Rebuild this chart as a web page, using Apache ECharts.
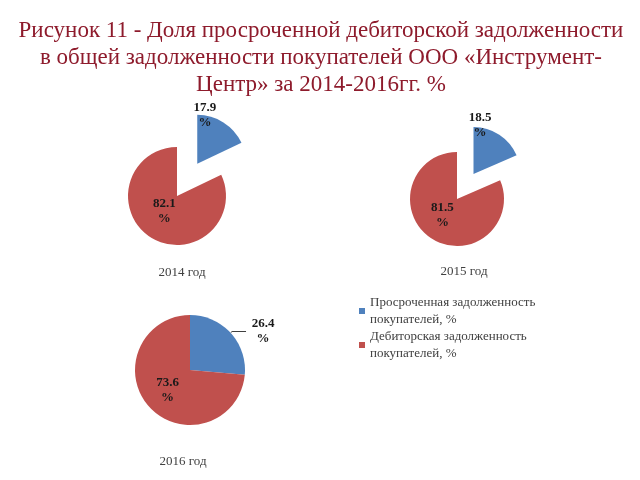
<!DOCTYPE html>
<html><head><meta charset="utf-8">
<script src="https://cdn.jsdelivr.net/npm/echarts@6/dist/echarts.min.js"></script>
<style>html,body{margin:0;padding:0;background:#fff}#c{width:640px;height:480px}</style>
</head><body><div id="c"></div>
<script>
const seriesNames = ['Просроченная задолженность\nпокупателей, %', 'Дебиторская задолженность\nпокупателей, %'];
const years = ['2014 год', '2015 год', '2016 год'];
const overdue = [17.9, 18.5, 26.4];
const receivable = [82.1, 81.5, 73.6];
const colors = ['#4F81BD', '#C0504D'];
const titleText = 'Рисунок 11 - Доля просроченной дебиторской задолженности\nв общей задолженности покупателей ООО «Инструмент-\nЦентр» за 2014-2016гг. %';

const serif = "'Liberation Serif','Times New Roman',serif";
const chart = echarts.init(document.getElementById('c'));

// layout per pie: center, radius, explode offset, label shifts
const layouts = [
  {center: [177, 196], radius: 49, offset: 38, explode: true, shift: [[-7, -25], [2, -8]]},
  {center: [457, 199], radius: 47, offset: 30, explode: true, shift: [[-8, -27], [0, -6]]},
  {center: [190, 370], radius: 55, offset: 0, explode: false, shift: [[12, 0], [0, 0]]}
];
const yearPos = [[177, 261], [459, 260], [178, 450]];

const labelStyle = {
  fontFamily: serif, fontSize: 13, fontWeight: 'bold', color: '#1a1a1a', lineHeight: 15,
  formatter: p => p.value.toFixed(1) + '\n%'
};

const series = layouts.map((L, i) => ({
  type: 'pie',
  center: L.center,
  radius: L.radius,
  startAngle: 90,
  clockwise: true,
  selectedMode: L.explode ? 'multiple' : false,
  selectedOffset: L.offset,
  avoidLabelOverlap: false,
  animation: false,
  emphasis: {disabled: true},
  itemStyle: {borderWidth: 0},
  label: Object.assign({position: 'inside'}, labelStyle),
  labelLine: {show: false},
  labelLayout: p => {
    const s = L.shift[p.dataIndex];
    return {dx: s[0], dy: s[1], align: 'center'};
  },
  data: [
    {name: seriesNames[0], value: overdue[i], selected: L.explode,
      itemStyle: {color: colors[0]},
      label: i === 2 ? {position: 'outside'} : undefined,
      labelLine: i === 2 ? {show: true, length: 2, length2: 14, lineStyle: {color: '#404040', width: 1}} : undefined},
    {name: seriesNames[1], value: receivable[i], itemStyle: {color: colors[1]}}
  ]
}));

const titles = [{
  text: titleText, top: 12, textAlign: 'center',
  left: 316,
  textStyle: {fontFamily: serif, fontSize: 23, fontWeight: 'normal', color: '#8E1B2C', lineHeight: 27}
}].concat(years.map((y, i) => ({
  text: y, left: yearPos[i][0], top: yearPos[i][1], textAlign: 'center',
  textStyle: {fontFamily: serif, fontSize: 13, fontWeight: 'normal', color: '#404040'}
})));

chart.setOption({
  backgroundColor: '#fff',
  title: titles,
  color: colors,
  legend: {
    orient: 'vertical', left: 354, top: 289,
    itemWidth: 6, itemHeight: 6, itemGap: 0,
    icon: 'rect',
    data: seriesNames,
    selectedMode: false,
    textStyle: {fontFamily: serif, fontSize: 13, color: '#404040', lineHeight: 17}
  },
  series: series
});
</script>
</body></html>
